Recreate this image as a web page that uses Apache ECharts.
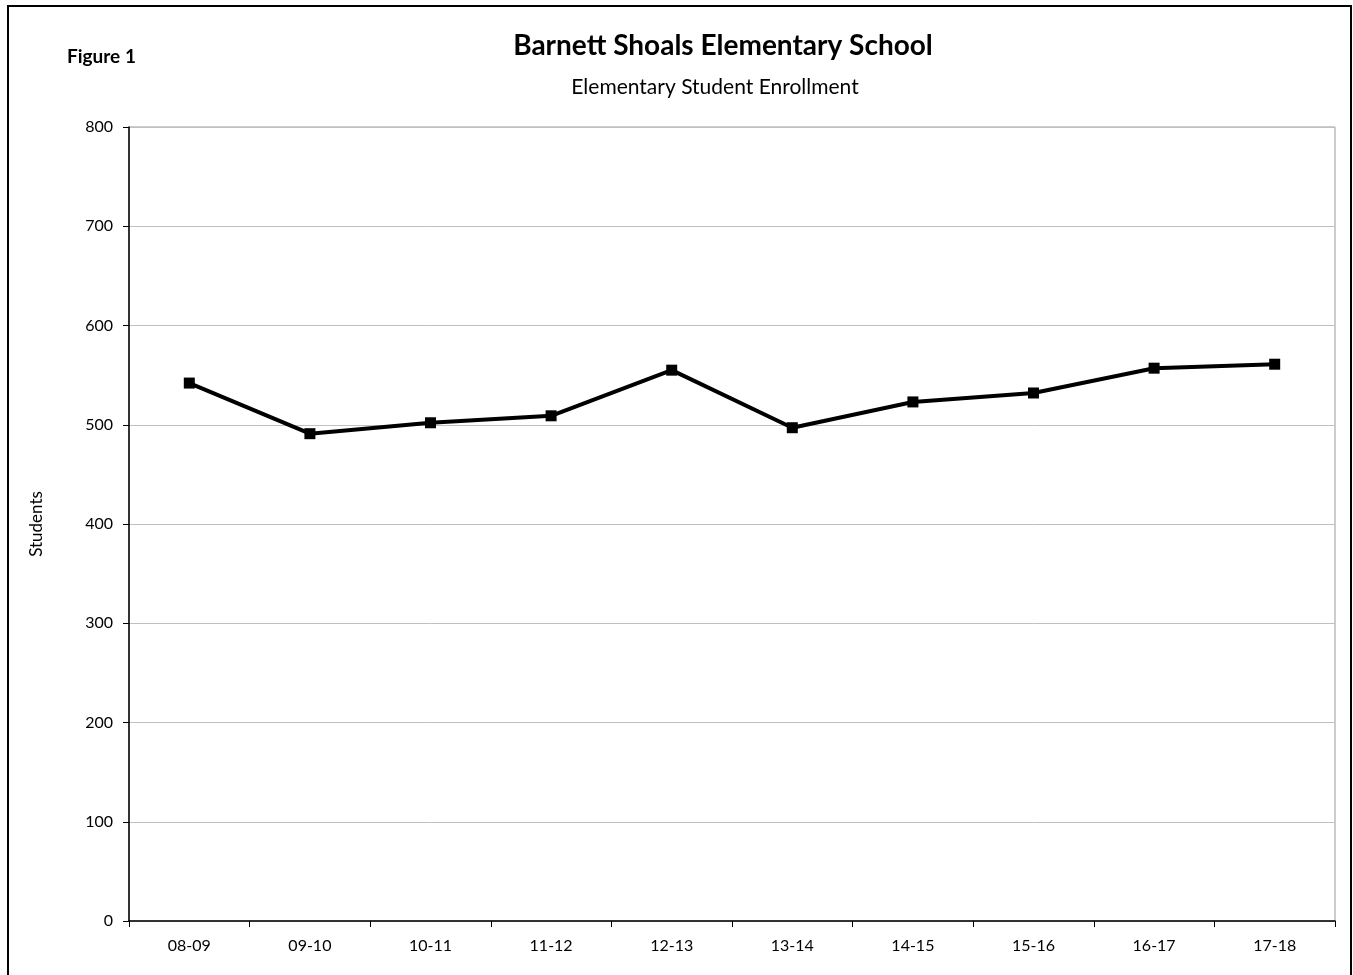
<!DOCTYPE html>
<html>
<head>
<meta charset="utf-8">
<script src="https://cdn.jsdelivr.net/npm/echarts@6/dist/echarts.min.js"></script>
<style>
html,body{margin:0;padding:0;background:#fff;}
#chart{width:1353px;height:975px;}
</style>
</head>
<body>
<div id="chart"></div>
<script>
const categories = ['08-09','09-10','10-11','11-12','12-13','13-14','14-15','15-16','16-17','17-18'];
const students = [542, 491, 502, 509, 555, 497, 523, 532, 557, 561];
const yTicks = [0, 100, 200, 300, 400, 500, 600, 700, 800];
const titleText = 'Barnett Shoals Elementary School';
const subtitleText = 'Elementary Student Enrollment';
const figureLabel = 'Figure 1';
const yAxisName = 'Students';

const FONT = 'Lato, "Open Sans", sans-serif';
const chart = echarts.init(document.getElementById('chart'), null, {renderer: 'canvas'});
chart.setOption({
  backgroundColor: '#fff',
  animation: false,
  textStyle: {fontFamily: FONT},
  graphic: [
    {type: 'rect', shape: {x: 8, y: 6, width: 1343, height: 1000}, style: {fill: 'none', stroke: '#000', lineWidth: 2}, silent: true},
    {type: 'text', style: {x: 67, y: 57, text: figureLabel, fontFamily: FONT, fontWeight: 'bold', fontSize: 19, fill: '#000', textAlign: 'left', textVerticalAlign: 'middle'}},
    {type: 'text', style: {x: 723, y: 46, text: titleText, fontFamily: FONT, fontWeight: 'bold', fontSize: 28, fill: '#000', textAlign: 'center', textVerticalAlign: 'middle'}},
    {type: 'text', style: {x: 715, y: 87, text: subtitleText, fontFamily: FONT, fontSize: 21, fill: '#000', textAlign: 'center', textVerticalAlign: 'middle'}}
  ],
  grid: {left: 129, top: 127, right: 18, bottom: 54, show: true, borderColor: '#999', borderWidth: 1, containLabel: false},
  xAxis: {
    type: 'category',
    data: categories,
    boundaryGap: true,
    axisLine: {lineStyle: {color: '#000', width: 1.5}},
    axisTick: {show: true, length: 6, inside: false, lineStyle: {color: '#000'}},
    axisLabel: {color: '#000', fontSize: 16, fontFamily: FONT, margin: 17},
    splitLine: {show: false}
  },
  yAxis: {
    type: 'value',
    min: yTicks[0], max: yTicks[yTicks.length - 1], interval: 100,
    name: yAxisName,
    nameLocation: 'middle',
    nameGap: 84,
    nameTextStyle: {color: '#000', fontSize: 17, fontFamily: FONT},
    axisLine: {show: true, lineStyle: {color: '#000', width: 1.5}},
    axisTick: {show: true, length: 6, lineStyle: {color: '#000'}},
    axisLabel: {color: '#000', fontSize: 16, fontFamily: FONT, margin: 16},
    splitLine: {show: true, lineStyle: {color: '#c0c0c0', width: 1}}
  },
  series: [{
    type: 'line',
    data: students,
    symbol: 'rect',
    symbolSize: 11,
    lineStyle: {color: '#000', width: 4},
    itemStyle: {color: '#000'}
  }]
});
</script>
</body>
</html>
